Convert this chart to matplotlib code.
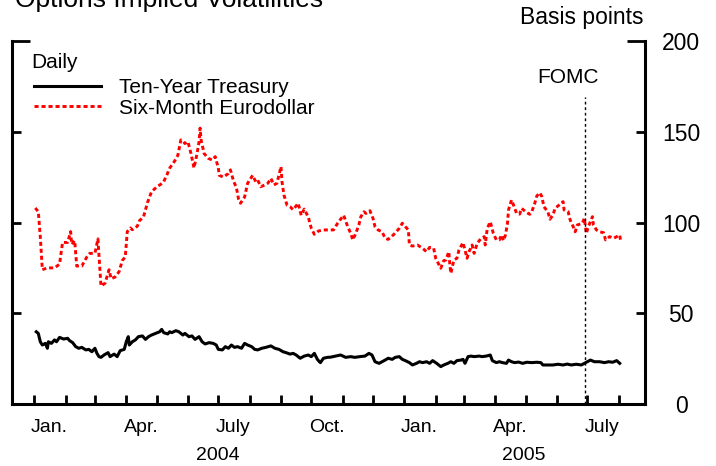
import matplotlib
matplotlib.use('Agg')
import matplotlib.pyplot as plt
import matplotlib.dates as mdates
from matplotlib.ticker import FixedLocator, FixedFormatter, FormatStrFormatter, NullFormatter
import pandas as pd

plt.rcParams['font.family'] = ['Liberation Sans', 'DejaVu Sans']

# Six-month eurodollar implied vol, basis points
euro_dates = [
    "2004-01-02", "2004-01-05", "2004-01-07", "2004-01-09", "2004-01-14", "2004-01-21", "2004-01-26",
    "2004-01-29", "2004-02-03", "2004-02-06", "2004-02-07", "2004-02-10", "2004-02-12", "2004-02-17",
    "2004-02-22", "2004-02-25", "2004-03-01", "2004-03-04", "2004-03-05", "2004-03-07", "2004-03-11",
    "2004-03-15", "2004-03-17", "2004-03-21", "2004-03-25", "2004-03-28", "2004-03-31", "2004-04-02",
    "2004-04-05", "2004-04-07", "2004-04-12", "2004-04-14", "2004-04-18", "2004-04-22", "2004-04-26",
    "2004-05-02", "2004-05-05", "2004-05-08", "2004-05-11", "2004-05-14", "2004-05-19", "2004-05-22",
    "2004-05-25", "2004-05-27", "2004-05-29", "2004-06-01", "2004-06-04", "2004-06-07", "2004-06-10",
    "2004-06-12", "2004-06-13", "2004-06-14", "2004-06-17", "2004-06-21", "2004-06-25", "2004-06-28",
    "2004-07-01", "2004-07-02", "2004-07-06", "2004-07-11", "2004-07-13", "2004-07-16", "2004-07-19",
    "2004-07-21", "2004-07-23", "2004-07-27", "2004-07-30", "2004-08-04", "2004-08-07", "2004-08-09",
    "2004-08-12", "2004-08-16", "2004-08-19", "2004-08-22", "2004-08-25", "2004-08-28", "2004-09-01",
    "2004-09-02", "2004-09-04", "2004-09-07", "2004-09-10", "2004-09-13", "2004-09-18", "2004-09-21",
    "2004-09-24", "2004-09-28", "2004-10-01", "2004-10-04", "2004-10-08", "2004-10-13", "2004-10-18",
    "2004-10-23", "2004-10-27", "2004-11-02", "2004-11-06", "2004-11-09", "2004-11-11", "2004-11-14",
    "2004-11-17", "2004-11-19", "2004-11-22", "2004-11-24", "2004-11-28", "2004-12-01", "2004-12-03",
    "2004-12-06", "2004-12-10", "2004-12-13", "2004-12-16", "2004-12-21", "2004-12-24", "2004-12-27",
    "2004-12-30", "2005-01-02", "2005-01-05", "2005-01-06", "2005-01-09", "2005-01-14", "2005-01-19",
    "2005-01-23", "2005-01-26", "2005-01-30", "2005-02-01", "2005-02-06", "2005-02-09", "2005-02-11",
    "2005-02-14", "2005-02-15", "2005-02-16", "2005-02-19", "2005-02-22", "2005-02-24", "2005-02-28",
    "2005-03-02", "2005-03-04", "2005-03-06", "2005-03-09", "2005-03-11", "2005-03-14", "2005-03-18",
    "2005-03-21", "2005-03-22", "2005-03-24", "2005-03-27", "2005-03-30", "2005-04-02", "2005-04-05",
    "2005-04-07", "2005-04-09", "2005-04-11", "2005-04-13", "2005-04-14", "2005-04-17", "2005-04-19",
    "2005-04-22", "2005-04-25", "2005-04-27", "2005-05-01", "2005-05-05", "2005-05-07", "2005-05-10",
    "2005-05-12", "2005-05-15", "2005-05-17", "2005-05-19", "2005-05-23", "2005-05-25", "2005-05-28",
    "2005-05-30", "2005-06-03", "2005-06-07", "2005-06-08", "2005-06-12", "2005-06-14", "2005-06-17",
    "2005-06-19", "2005-06-21", "2005-06-26", "2005-06-28", "2005-06-30", "2005-07-02", "2005-07-06",
    "2005-07-07", "2005-07-10", "2005-07-13", "2005-07-17", "2005-07-19", "2005-07-23", "2005-07-27",
    "2005-07-30", "2005-08-02", "2005-08-03",
]
euro_bp = [
    108, 106, 92, 74, 75, 75, 77,
    89, 89, 95, 88, 90, 76, 76,
    81, 83, 83, 91, 82, 65, 66.5,
    74, 69, 70, 73, 79, 81, 95,
    97, 96, 98, 101, 103, 111, 117,
    120, 121, 122.5, 126, 130, 134, 137,
    145.5, 145, 143.5, 144.5, 138, 130, 138,
    144.5, 152, 145.5, 138, 135.4, 134.4, 136.3,
    130, 126, 125, 127, 129, 123, 119,
    113, 110.6, 114, 121.6, 126, 122.5, 123.4,
    119.7, 120.7, 121.6, 124.3, 120.7, 121.6, 130.8,
    122.5, 115, 109.6, 108.7, 107, 110.6, 104,
    107.4, 103, 96.8, 93.5, 95.3, 95.9, 95.9,
    95.9, 99.6, 104, 97.7, 94, 90.4, 94,
    98.6, 103.2, 105.9, 105, 106.5, 102.3, 97.7,
    95.9, 94.9, 91.3, 90.7, 93.1, 94.9, 96.8,
    99.6, 97.7, 95.9, 87.6, 87, 87.6, 85.8,
    83.9, 86.3, 85.8, 80.3, 74.8, 79, 79.3,
    83.9, 76.6, 72, 79.3, 80.3, 84.8, 88.9,
    84.8, 80.3, 83.9, 87.6, 83, 88.5, 91.3,
    92.2, 87.6, 96.8, 100.4, 94, 90.4, 90.4,
    93.1, 90, 93.1, 99.6, 106.9, 112.4, 109.6,
    105, 104.6, 107.8, 105.9, 104.5, 105.9, 110.6,
    114.6, 116.4, 114.2, 108.7, 105.9, 101.8, 104.1,
    107.8, 109.6, 111.5, 106.9, 105.9, 101.4, 97.7,
    94.9, 98.6, 99.6, 102.3, 94, 97.7, 103.2,
    98.6, 95.9, 94.9, 94.4, 90.4, 92.2, 91.3,
    92.2, 93.1, 89.4,
]

# Ten-year Treasury implied vol, basis points
tsy_dates = [
    "2004-01-03", "2004-01-05", "2004-01-07", "2004-01-09", "2004-01-12", "2004-01-14", "2004-01-15",
    "2004-01-18", "2004-01-21", "2004-01-23", "2004-01-26", "2004-01-30", "2004-02-03", "2004-02-05",
    "2004-02-08", "2004-02-11", "2004-02-14", "2004-02-17", "2004-02-21", "2004-02-24", "2004-02-27",
    "2004-03-01", "2004-03-03", "2004-03-05", "2004-03-07", "2004-03-10", "2004-03-14", "2004-03-16",
    "2004-03-20", "2004-03-23", "2004-03-26", "2004-03-30", "2004-04-01", "2004-04-03", "2004-04-04",
    "2004-04-07", "2004-04-10", "2004-04-13", "2004-04-17", "2004-04-20", "2004-04-23", "2004-04-26",
    "2004-04-30", "2004-05-04", "2004-05-06", "2004-05-08", "2004-05-12", "2004-05-14", "2004-05-16",
    "2004-05-20", "2004-05-23", "2004-05-27", "2004-05-29", "2004-06-02", "2004-06-05", "2004-06-08",
    "2004-06-12", "2004-06-15", "2004-06-18", "2004-06-22", "2004-06-26", "2004-06-29", "2004-07-01",
    "2004-07-05", "2004-07-08", "2004-07-11", "2004-07-14", "2004-07-17", "2004-07-20", "2004-07-24",
    "2004-07-27", "2004-07-30", "2004-08-03", "2004-08-06", "2004-08-09", "2004-08-13", "2004-08-17",
    "2004-08-22", "2004-08-26", "2004-08-30", "2004-09-03", "2004-09-06", "2004-09-10", "2004-09-13",
    "2004-09-16", "2004-09-20", "2004-09-24", "2004-09-28", "2004-10-01", "2004-10-04", "2004-10-07",
    "2004-10-09", "2004-10-10", "2004-10-13", "2004-10-17", "2004-10-20", "2004-10-25", "2004-10-30",
    "2004-11-04", "2004-11-09", "2004-11-13", "2004-11-18", "2004-11-23", "2004-11-27", "2004-11-30",
    "2004-12-03", "2004-12-07", "2004-12-10", "2004-12-13", "2004-12-16", "2004-12-20", "2004-12-23",
    "2004-12-27", "2004-12-30", "2005-01-02", "2005-01-06", "2005-01-09", "2005-01-13", "2005-01-16",
    "2005-01-19", "2005-01-23", "2005-01-26", "2005-01-29", "2005-02-02", "2005-02-06", "2005-02-09",
    "2005-02-13", "2005-02-16", "2005-02-19", "2005-02-22", "2005-02-26", "2005-02-28", "2005-03-02",
    "2005-03-05", "2005-03-08", "2005-03-11", "2005-03-16", "2005-03-19", "2005-03-23", "2005-03-27",
    "2005-03-29", "2005-04-02", "2005-04-05", "2005-04-08", "2005-04-12", "2005-04-14", "2005-04-17",
    "2005-04-20", "2005-04-24", "2005-04-28", "2005-05-02", "2005-05-07", "2005-05-12", "2005-05-16",
    "2005-05-18", "2005-05-23", "2005-05-28", "2005-06-02", "2005-06-07", "2005-06-11", "2005-06-15",
    "2005-06-20", "2005-06-25", "2005-06-28", "2005-07-01", "2005-07-04", "2005-07-08", "2005-07-13",
    "2005-07-18", "2005-07-22", "2005-07-26", "2005-07-30", "2005-08-02",
]
tsy_bp = [
    39.8, 38.9, 34.3, 32.5, 33.4, 30.7, 34.3,
    33.4, 35.3, 34.3, 36.7, 35.8, 36.2, 34.9,
    33.8, 31.6, 30.7, 31.2, 29.8, 30.1, 28.8,
    30.7, 27.9, 26.1, 25.7, 27, 28.3, 26.1,
    27.5, 26.1, 29.4, 30.1, 34.3, 37.1, 32.5,
    34.3, 35.3, 37.1, 37.5, 35.6, 37.1, 38,
    38.9, 39.8, 41.1, 39.3, 38.6, 39.8, 39.3,
    40.4, 39.8, 38, 38.9, 37.1, 37.5, 35.6,
    37.1, 34.3, 33.1, 33.8, 33.4, 32.5, 30.1,
    29.8, 31.6, 30.7, 32.5, 31.2, 31.6, 30.7,
    33.4, 32.5, 31.6, 30.1, 29.8, 30.7, 31.2,
    32, 30.7, 30.1, 28.8, 28.3, 27.5, 27.9,
    27, 25.2, 26.4, 27, 26.1, 27.9, 24.6,
    23.3, 22.8, 25.2, 25.7, 25.8, 26.4, 27,
    25.7, 26.1, 25.7, 26.1, 26.4, 27.9, 27,
    23.3, 22.4, 23.3, 24.2, 25.2, 24.6, 25.7,
    26.1, 24.6, 23.9, 22.8, 21.5, 22.4, 23.3,
    22.8, 23.3, 22.4, 23.9, 22.4, 20.6, 21.5,
    22.4, 23.3, 22.4, 23.9, 24.2, 24.6, 22.4,
    26.1, 26.4, 26.1, 26.4, 26.1, 26.4, 27,
    23.9, 22.8, 23.3, 22.8, 22.4, 24.2, 23.3,
    22.8, 23.1, 22.4, 23, 22.8, 23, 22.8,
    21.5, 21.5, 21.5, 21.9, 21.5, 22, 21.5,
    21.9, 21.5, 22.4, 23.3, 24.2, 23.3, 23.3,
    22.8, 23.3, 23, 23.9, 22.4,
]

month_labels = ["Jan.", "Apr.", "July", "Oct.", "Jan.", "Apr.", "July"]
month_label_dates = ["2004-01-16", "2004-04-16", "2004-07-16", "2004-10-16",
                     "2005-01-16", "2005-04-16", "2005-07-16"]
years = ["2004", "2005"]
year_dates = ["2004-07-01", "2005-04-29"]
fomc_date = "2005-06-29"

fig = plt.figure(figsize=(7.16, 4.66), dpi=100)
ax = fig.add_axes([12 / 716, 62 / 466, 633 / 716, 363 / 466])

ax.plot(pd.to_datetime(tsy_dates), tsy_bp, color='black', lw=2.2,
        label='Ten-Year Treasury')
ax.plot(pd.to_datetime(euro_dates), euro_bp, color='red', lw=2.1,
        linestyle=(0, (1.4, 1.0)), label='Six-Month Eurodollar')

ax.set_xlim(pd.Timestamp('2003-12-10'), pd.Timestamp('2005-08-27'))
ax.set_ylim(0, 200)

ax.spines['top'].set_visible(False)
for s in ['left', 'right', 'bottom']:
    ax.spines[s].set_linewidth(2.2)

# x axis: month ticks inside, labels in between
month_ticks = pd.date_range('2004-01-01', '2005-08-01', freq='MS')
ax.xaxis.set_major_locator(FixedLocator(mdates.date2num(month_ticks)))
ax.xaxis.set_major_formatter(NullFormatter())
ax.xaxis.set_minor_locator(FixedLocator(mdates.date2num(pd.to_datetime(month_label_dates))))
ax.xaxis.set_minor_formatter(FixedFormatter(month_labels))
ax.tick_params(axis='x', which='major', direction='in', length=6.5, width=2)
ax.tick_params(axis='x', which='minor', length=0, pad=11, labelsize=14)

trans = ax.get_xaxis_transform()
for yr, d in zip(years, year_dates):
    ax.text(pd.Timestamp(d), -0.1405, yr, transform=trans, ha='center', va='center', fontsize=14)

# y axis: ticks on both sides, labels on the right only
ax.yaxis.set_major_locator(FixedLocator([200]))
ax.yaxis.set_minor_locator(FixedLocator([0, 50, 100, 150]))
ax.yaxis.set_major_formatter(FormatStrFormatter('%d'))
ax.yaxis.set_minor_formatter(FormatStrFormatter('%d'))
ax.tick_params(axis='y', which='both', direction='in', left=True, right=True,
               labelleft=False, labelright=True, width=2, pad=26, labelsize=16.5)
ax.tick_params(axis='y', which='major', length=13)
ax.tick_params(axis='y', which='minor', length=6.5)
for lbl in ax.get_yticklabels(which='both'):
    lbl.set_ha('center')

# FOMC marker
ax.axvline(pd.Timestamp(fomc_date), ymin=0, ymax=0.845, color='black', lw=1,
           linestyle=(0, (2, 2)))
ax.text(pd.Timestamp('2005-06-12'), 180, 'FOMC', ha='center', va='center', fontsize=15)

fig.text(31 / 716, (466 - 62) / 466, 'Daily', va='center', fontsize=15)
ax.legend(loc='upper left', bbox_to_anchor=(34 / 716, (466 - 78) / 466),
          bbox_transform=fig.transFigure, frameon=False, fontsize=15,
          handlelength=3.2, handletextpad=0.9, labelspacing=0.08,
          borderpad=0, borderaxespad=0)

fig.text(15 / 716, (466 - 7) / 466, 'Options Implied Volatilities', fontsize=19, va='baseline')
fig.text(644 / 716, (466 - 24) / 466, 'Basis points', ha='right', va='baseline', fontsize=16.5)

fig.savefig('out.png', dpi=100)
